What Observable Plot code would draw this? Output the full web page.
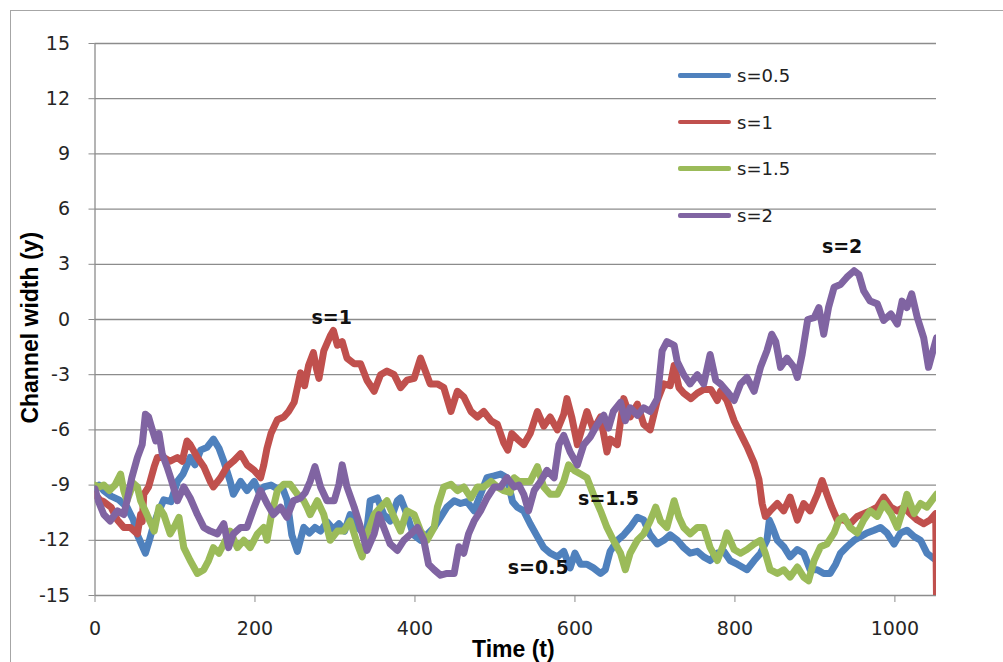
<!DOCTYPE html>
<html>
<head>
<meta charset="utf-8">
<script src="https://cdn.jsdelivr.net/npm/d3@7"></script>
<script src="https://cdn.jsdelivr.net/npm/@observablehq/plot@0.6"></script>
<style>
  html, body { margin: 0; padding: 0; background: #fff; overflow: hidden; }
  #wrap { position: relative; width: 1003px; height: 662px; }
  #border { position: absolute; left: 10px; top: 10px; width: 1100px; height: 1100px;
            border: 1px solid #a6a6a6; box-sizing: border-box; }
  #chart { position: absolute; left: 0; top: 0; }
  #legend { position: absolute; left: 678px; top: 52px; font-family: "DejaVu Sans", sans-serif;
            font-size: 18px; color: #222; }
  .row { display: flex; align-items: center; height: 46.7px; }
  .swatch { width: 53px; height: 4.5px; border-radius: 2px; margin-right: 6px; }
</style>
</head>
<body>
<div id="wrap">
  <div id="border"></div>
  <div id="chart"></div>
  <div id="legend"></div>
</div>
<script>
// Channel width of four simulated channels over time, one series per s value.
const seriesNames = ["s=0.5", "s=1", "s=1.5", "s=2"];
const seriesColors = ["#4F81BD", "#C0504D", "#9BBB59", "#8064A2"];

// [time, width] pairs
const s05 = [[0,-9.2],[5,-9.0],[11,-9.3],[20,-9.6],[30,-9.8],[40,-10.2],[48,-10.9],[53,-11.7],[58,-12.2],[63,-12.7],[68,-12.0],[73,-11.2],[78,-10.6],[86,-9.8],[95,-9.9],[103,-8.8],[110,-8.4],[119,-7.5],[125,-7.9],[132,-7.1],[140,-6.95],[148,-6.5],[155,-7.0],[161,-7.7],[169,-8.8],[173,-9.5],[182,-8.8],[190,-9.3],[199,-8.8],[205,-9.4],[211,-9.1],[220,-9.0],[228,-9.2],[234,-9.1],[240,-9.8],[246,-11.7],[253,-12.6],[261,-11.3],[268,-11.6],[275,-11.3],[282,-11.5],[290,-11.0],[298,-11.4],[305,-11.1],[312,-11.5],[319,-10.6],[326,-11.2],[333,-11.5],[340,-11.4],[344,-9.85],[353,-9.7],[361,-10.6],[369,-10.95],[378,-9.85],[382,-9.7],[390,-10.6],[398,-11.7],[407,-12.0],[415,-11.7],[424,-11.3],[432,-10.75],[440,-10.2],[449,-9.85],[457,-10.0],[465,-9.9],[474,-10.4],[482,-9.5],[490,-8.6],[499,-8.5],[507,-8.4],[515,-8.6],[522,-9.9],[528,-10.2],[536,-10.4],[544,-11.1],[553,-11.8],[561,-12.4],[569,-12.7],[578,-12.9],[586,-12.6],[594,-13.5],[600,-12.7],[607,-13.3],[615,-13.3],[623,-13.5],[632,-13.8],[638,-13.6],[644,-12.6],[653,-12.0],[661,-11.7],[669,-11.3],[678,-10.75],[686,-10.9],[694,-11.7],[703,-12.2],[711,-12.0],[719,-11.7],[728,-12.0],[736,-12.4],[744,-12.7],[753,-12.6],[761,-12.9],[769,-13.1],[778,-12.7],[786,-12.6],[794,-13.1],[803,-13.3],[815,-13.6],[824,-13.1],[832,-12.7],[840,-12.0],[843,-10.9],[847,-11.3],[853,-12.0],[861,-12.35],[869,-12.9],[878,-12.5],[886,-12.7],[894,-13.6],[903,-13.6],[911,-13.8],[919,-13.8],[926,-13.3],[932,-12.7],[940,-12.35],[949,-12.0],[957,-11.8],[965,-11.6],[974,-11.45],[982,-11.3],[990,-11.6],[999,-12.2],[1007,-11.6],[1015,-11.45],[1024,-11.8],[1032,-12.0],[1040,-12.7],[1052,-13.1]];

const s10 = [[0,-9.5],[6,-9.8],[11,-9.9],[20,-10.2],[28,-10.9],[36,-11.3],[44,-11.3],[53,-11.65],[57,-10.6],[59,-11.0],[61,-9.5],[67,-9.1],[74,-8.0],[78,-7.5],[86,-7.5],[94,-7.7],[103,-7.5],[109,-7.7],[115,-6.6],[119,-6.8],[128,-7.5],[136,-8.0],[144,-8.8],[148,-9.1],[157,-8.6],[165,-8.0],[173,-7.7],[182,-7.3],[190,-7.9],[199,-8.2],[207,-8.6],[211,-7.9],[215,-7.0],[220,-6.2],[228,-5.45],[236,-5.3],[242,-5.0],[249,-4.5],[257,-2.9],[262,-3.6],[267,-2.5],[273,-1.8],[277,-2.7],[280,-3.2],[286,-1.7],[294,-0.9],[298,-0.6],[303,-1.4],[309,-1.2],[315,-2.1],[324,-2.4],[332,-2.4],[340,-3.3],[349,-3.9],[357,-3.0],[365,-2.8],[374,-3.0],[382,-3.7],[390,-3.3],[399,-3.2],[407,-2.1],[413,-2.8],[419,-3.5],[428,-3.5],[436,-3.7],[445,-5.0],[453,-3.9],[461,-4.2],[470,-5.0],[478,-5.3],[486,-5.0],[495,-5.5],[503,-5.7],[511,-6.7],[516,-7.1],[521,-6.2],[528,-6.5],[536,-6.8],[544,-6.2],[553,-5.0],[561,-5.8],[569,-5.3],[578,-6.0],[586,-5.15],[590,-4.3],[596,-5.3],[603,-6.8],[609,-5.9],[615,-5.0],[623,-6.0],[632,-5.3],[640,-7.2],[644,-6.5],[653,-6.8],[661,-4.3],[669,-5.3],[678,-4.6],[686,-5.7],[694,-6.0],[703,-4.4],[711,-3.5],[719,-3.6],[724,-2.5],[730,-3.7],[736,-4.0],[745,-4.3],[753,-4.0],[761,-3.8],[770,-3.8],[778,-4.4],[782,-3.9],[790,-4.4],[799,-5.5],[807,-6.2],[815,-6.9],[824,-7.8],[830,-8.7],[834,-10.0],[838,-10.7],[844,-10.4],[853,-10.0],[861,-10.4],[869,-9.65],[878,-10.9],[886,-10.0],[894,-10.4],[903,-9.5],[909,-8.75],[915,-9.5],[921,-10.2],[928,-10.9],[936,-10.9],[944,-11.1],[953,-10.7],[961,-10.55],[969,-10.4],[978,-10.2],[986,-9.65],[995,-10.2],[1003,-10.4],[1011,-10.2],[1019,-10.55],[1028,-10.9],[1036,-11.1],[1044,-10.9],[1051,-10.55],[1052,-15]];

const s15 = [[0,-9.0],[5,-9.1],[11,-9.0],[18,-9.3],[25,-9.0],[32,-8.4],[36,-9.3],[40,-9.85],[48,-8.9],[53,-9.1],[57,-9.85],[65,-10.6],[74,-11.5],[80,-10.2],[86,-10.6],[94,-11.65],[100,-11.2],[105,-10.75],[111,-12.4],[119,-13.1],[128,-13.8],[136,-13.6],[142,-13.1],[148,-12.4],[155,-12.7],[161,-12.2],[169,-11.5],[178,-12.4],[186,-12.0],[194,-12.4],[203,-11.65],[211,-11.3],[215,-12.0],[220,-10.75],[228,-9.3],[236,-8.95],[244,-8.95],[253,-9.5],[261,-9.85],[265,-10.2],[269,-10.6],[278,-9.85],[286,-10.6],[294,-12.0],[303,-11.5],[311,-11.5],[319,-10.95],[328,-12.2],[334,-12.9],[340,-11.65],[349,-10.6],[357,-10.2],[365,-9.85],[374,-10.75],[382,-11.5],[390,-10.4],[399,-10.6],[407,-11.5],[415,-12.0],[424,-11.3],[428,-10.2],[436,-9.1],[445,-8.95],[453,-9.3],[461,-9.1],[470,-9.7],[478,-9.1],[486,-9.1],[495,-8.8],[503,-9.1],[511,-9.3],[519,-9.4],[524,-8.6],[530,-8.8],[536,-8.8],[544,-8.8],[553,-8.0],[561,-9.1],[569,-9.5],[578,-9.5],[586,-8.8],[592,-7.9],[599,-8.2],[607,-8.4],[615,-8.6],[623,-9.5],[632,-10.4],[640,-11.3],[648,-12.0],[657,-12.7],[663,-13.6],[669,-12.7],[678,-12.0],[686,-11.65],[694,-10.95],[701,-10.2],[707,-10.95],[715,-11.3],[724,-9.85],[730,-10.75],[736,-11.3],[744,-11.65],[753,-11.3],[761,-11.3],[769,-12.4],[778,-13.1],[786,-12.2],[790,-11.6],[799,-12.5],[807,-12.7],[815,-12.5],[824,-12.2],[832,-12.0],[838,-12.7],[844,-13.6],[853,-13.8],[861,-13.6],[869,-14.0],[878,-13.45],[886,-14.0],[892,-14.2],[899,-13.1],[907,-12.35],[915,-12.2],[924,-11.6],[930,-10.9],[936,-10.7],[944,-11.3],[953,-11.6],[961,-10.9],[969,-10.4],[978,-10.7],[986,-10.0],[995,-10.55],[1003,-11.3],[1011,-10.2],[1015,-9.5],[1024,-10.55],[1032,-10.0],[1040,-10.2],[1052,-9.5]];

const s20 = [[0,-9.2],[4,-9.85],[11,-10.6],[19,-10.95],[28,-10.4],[36,-10.6],[40,-9.85],[46,-8.6],[53,-7.5],[59,-6.8],[63,-5.15],[67,-5.3],[71,-5.9],[76,-6.6],[80,-6.2],[84,-7.3],[90,-8.0],[96,-8.8],[103,-9.85],[111,-9.1],[119,-9.7],[128,-10.6],[136,-11.3],[144,-11.5],[153,-11.65],[161,-11.1],[167,-12.4],[173,-11.65],[182,-11.3],[190,-11.3],[199,-10.2],[207,-9.3],[215,-10.0],[223,-10.6],[232,-10.2],[240,-10.75],[248,-9.85],[257,-9.7],[263,-9.4],[269,-8.8],[275,-8.0],[282,-9.1],[290,-9.85],[299,-9.85],[305,-8.95],[309,-7.9],[315,-9.1],[324,-10.2],[332,-11.3],[340,-12.55],[349,-11.65],[355,-10.6],[361,-11.3],[369,-12.2],[378,-12.55],[386,-12.0],[395,-11.65],[403,-11.3],[411,-12.0],[417,-13.3],[424,-13.6],[432,-13.9],[440,-13.8],[449,-13.8],[455,-12.35],[461,-12.7],[467,-11.65],[474,-10.95],[482,-10.4],[490,-9.7],[499,-9.1],[507,-9.1],[515,-8.6],[524,-9.1],[530,-9.0],[536,-9.5],[542,-10.4],[549,-9.3],[557,-8.8],[565,-8.2],[574,-8.6],[580,-6.8],[586,-6.3],[594,-7.2],[603,-7.9],[611,-6.8],[619,-6.4],[628,-5.7],[636,-5.2],[642,-5.9],[648,-5.0],[657,-4.5],[663,-5.5],[669,-4.8],[678,-5.2],[686,-4.8],[694,-5.0],[703,-4.3],[709,-1.7],[715,-1.2],[724,-1.4],[728,-2.3],[736,-3.0],[744,-3.5],[753,-3.0],[761,-3.5],[769,-1.9],[776,-3.3],[782,-3.5],[790,-3.9],[799,-4.4],[807,-3.5],[815,-3.15],[824,-3.9],[832,-2.6],[840,-1.7],[846,-0.8],[851,-1.2],[857,-2.6],[865,-2.1],[874,-2.6],[878,-3.15],[884,-1.9],[891,0.0],[899,0.1],[905,0.65],[911,-0.8],[917,0.65],[924,1.75],[932,1.9],[940,2.3],[949,2.65],[955,2.45],[961,1.55],[969,1.0],[978,0.85],[986,-0.05],[995,0.3],[1003,-0.25],[1009,1.0],[1015,0.65],[1021,1.4],[1028,0.1],[1036,-1.0],[1042,-2.6],[1052,-1.0]];

const seriesData = [s05, s10, s15, s20];

// Inline series labels: [time, width, text]
const inlineLabels = [[296, 0.1, "s=1"], [934, 3.95, "s=2"], [642, -9.75, "s=1.5"], [554, -13.5, "s=0.5"]];

const xTicks = [0, 200, 400, 600, 800, 1000];
const yTicks = [-15, -12, -9, -6, -3, 0, 3, 6, 9, 12, 15];

const rows = seriesData.flatMap((pts, i) =>
  pts.map(([t, v]) => ({t, v, s: seriesNames[i]})));
const labelRows = inlineLabels.map(([t, v, text]) => ({t, v, text}));

const gridGray = "#8c8c8c";

const chart = Plot.plot({
  width: 1003,
  height: 662,
  marginLeft: 94.5,
  marginRight: 67,
  marginTop: 43,
  marginBottom: 67,
  style: {fontFamily: "DejaVu Sans, sans-serif", fontSize: "19px", background: "transparent", overflow: "visible"},
  x: {domain: [0, 1052]},
  y: {domain: [-15, 15]},
  color: {domain: seriesNames, range: seriesColors},
  marks: [
    Plot.gridY(yTicks, {stroke: gridGray, strokeOpacity: 1, strokeWidth: 1.3}),
    Plot.ruleX([0], {stroke: gridGray, strokeWidth: 1.3}),
    Plot.axisY(yTicks, {tickSize: 6, tickPadding: 19, stroke: gridGray, fill: "#262626", label: null,
      tickFormat: d => d < 0 ? "-" + Math.abs(d) : String(d)}),
    Plot.axisX(xTicks, {tickSize: 7, tickPadding: 19, stroke: gridGray, fill: "#262626", label: null,
      tickFormat: d => String(d)}),
    Plot.line(rows, {x: "t", y: "v", z: "s", stroke: "s", strokeWidth: 7,
      strokeLinejoin: "round", strokeLinecap: "round", clip: true}),
    Plot.text(labelRows, {x: "t", y: "v", text: "text", fontWeight: "bold", fontSize: 19, fill: "#111"}),
    Plot.text(["Channel width (y)"], {frameAnchor: "left", textAnchor: "middle", y: () => -0.45,
      rotate: -90, dx: -64,
      fontFamily: "Liberation Sans, Arial, sans-serif", fontWeight: "bold", fontSize: 23, fill: "#000"}),
    Plot.text(["Time (t)"], {frameAnchor: "bottom", x: () => 523, dy: 54, lineAnchor: "middle",
      fontFamily: "Liberation Sans, Arial, sans-serif", fontWeight: "bold", fontSize: 23, fill: "#000"})
  ]
});
document.getElementById("chart").appendChild(chart);

// Legend entries
const legend = document.getElementById("legend");
seriesNames.forEach((name, i) => {
  const row = document.createElement("div");
  row.className = "row";
  const sw = document.createElement("div");
  sw.className = "swatch";
  sw.style.background = seriesColors[i];
  const lab = document.createElement("span");
  lab.textContent = name;
  row.appendChild(sw);
  row.appendChild(lab);
  legend.appendChild(row);
});
</script>
</body>
</html>
